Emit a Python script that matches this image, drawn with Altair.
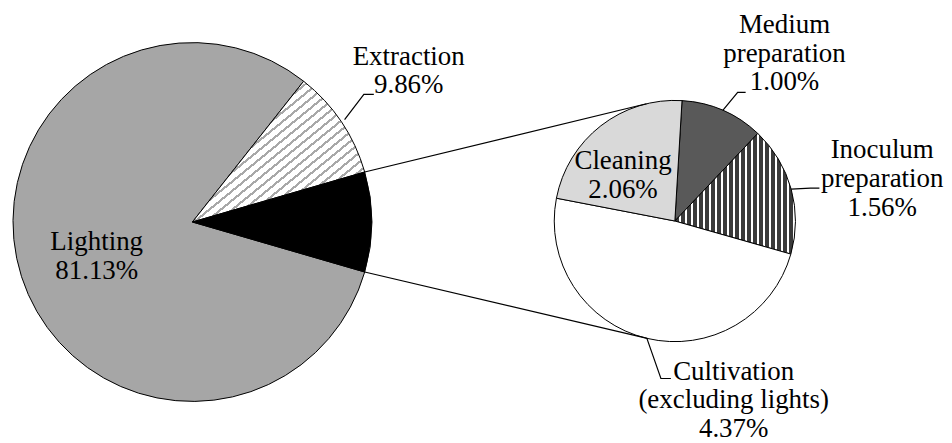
import math
import altair as alt
import pandas as pd

# ---------------- data ----------------
main_names = ["Lighting", "Extraction", "Other"]
main_known = [81.13, 9.86]
second_names = ["Medium preparation", "Inoculum preparation",
                "Cultivation (excluding lights)", "Cleaning"]
second_values = [1.00, 1.56, 4.37, 2.06]

main_values = main_known + [round(sum(second_values), 2)]

# ---------------- layout (plot-area pixels) ----------------
C1 = (185.0, 214.0)   # main pie centre
R1 = 180.0
C2 = (669.0, 213.0)   # secondary pie centre
R2 = 121.0
SECOND_START_DEG = 3.4
FONT = "Liberation Serif"
FS = 27
LH = 29


def pt(c, r, a):
    return (c[0] + r * math.sin(a), c[1] - r * math.cos(a))


def slices(names, values, start_rad):
    tot = sum(values)
    rows, acc = [], start_rad
    for n, v in zip(names, values):
        span = v / tot * 2 * math.pi
        rows.append({"name": n, "value": v, "a0": acc, "a1": acc + span,
                     "mid": acc + span / 2})
        acc += span
    return pd.DataFrame(rows)


other_frac = main_values[2] / sum(main_values)
main_start = math.pi / 2 + other_frac * math.pi  # "Other" centred at 3 o'clock
main_df = slices(main_names, main_values, main_start)
sec_df = slices(second_names, second_values, math.radians(SECOND_START_DEG))


def stripes(c_dark, c_light, n, frac, x1, y1, x2, y2):
    stops = []
    for k in range(n):
        o0 = k / n
        o1 = (k + frac) / n
        o2 = (k + 1) / n
        stops += [alt.GradientStop(color=c_dark, offset=o0),
                  alt.GradientStop(color=c_dark, offset=o1),
                  alt.GradientStop(color=c_light, offset=o1),
                  alt.GradientStop(color=c_light, offset=o2)]
    return alt.LinearGradient(gradient="linear", stops=stops,
                              x1=x1, y1=y1, x2=x2, y2=y2)


fills = {
    "Lighting": "#a6a6a6",
    "Extraction": stripes("#a8a8a8", "#ffffff", 30, 0.3, 0, 0, 1, 1),
    "Other": "#000000",
    "Medium preparation": "#595959",
    "Inoculum preparation": stripes("#3a3a3a", "#ffffff", 20, 0.62, 0, 0, 1, 0),
    "Cultivation (excluding lights)": "#ffffff",
    "Cleaning": "#d9d9d9",
}


def pie_layers(df, centre, radius):
    out = []
    for n in df["name"]:
        out.append(
            alt.Chart(df)
            .transform_filter(alt.datum.name == n)
            .mark_arc(fill=fills[n], stroke="black", strokeWidth=1,
                      radius=radius)
            .encode(theta=alt.Theta("a0:Q", scale=None),
                    theta2=alt.Theta2("a1:Q"),
                    x=alt.value(centre[0]), y=alt.value(centre[1]))
        )
    return out


# connector lines: tangents from the "Other" slice edges to the secondary pie
oth = main_df[main_df.name == "Other"].iloc[0]
conn = []
for ang, sign in [(oth.a0, 1), (oth.a1, -1)]:
    p = pt(C1, R1, ang)
    dx, dy = p[0] - C2[0], p[1] - C2[1]
    d = math.hypot(dx, dy)
    phi = math.atan2(dx, -dy)
    beta = math.acos(R2 / d)
    q = pt(C2, R2, phi + sign * beta)
    conn.append({"x": p[0], "y": p[1], "x2": q[0], "y2": q[1]})
conn_df = pd.DataFrame(conn)

connectors = alt.Chart(conn_df).mark_rule(color="black", strokeWidth=1.2).encode(
    x=alt.X("x:Q", scale=None), y=alt.Y("y:Q", scale=None),
    x2="x2:Q", y2="y2:Q")

# labels
def pct(v):
    return f"{v:.2f}%"

label_layout = {
    # name: (text lines, x, y of first baseline, leader elbow, leader end)
    "Lighting": (["Lighting"], 89, 242, None, None),
    "Extraction": (["Extraction"], 402, 56, (357, 86), (367, 86)),
    "Medium preparation": (["Medium", "preparation"], 779, 24, (732, 84), (740, 84)),
    "Inoculum preparation": (["Inoculum", "preparation"], 877, 150, (805, 180), (814, 180)),
    "Cleaning": (["Cleaning"], 617, 161, None, None),
    "Cultivation (excluding lights)": (["Cultivation", "(excluding lights)"], 728, 372, (655, 371), (665, 371)),
}

lab_rows, lead_rows = [], []
for df, centre, radius, gap in [(main_df, C1, R1, 4), (sec_df, C2, R2, 0)]:
    for _, r in df.iterrows():
        if r["name"] not in label_layout:
            continue
        lines, lx, ly, elbow, end = label_layout[r["name"]]
        lab_rows.append({"text": "\n".join(lines + [pct(r["value"])]),
                         "x": lx, "y": ly})
        if elbow is not None:
            s = pt(centre, radius + gap, r["mid"])
            for i, (px, py) in enumerate([s, elbow, end]):
                lead_rows.append({"id": r["name"], "i": i, "x": px, "y": py})

lab_df = pd.DataFrame(lab_rows)
lead_df = pd.DataFrame(lead_rows)

leaders = alt.Chart(lead_df).mark_line(color="black", strokeWidth=1.2).encode(
    x=alt.X("x:Q", scale=None), y=alt.Y("y:Q", scale=None),
    detail="id:N", order="i:Q")

labels = alt.Chart(lab_df).mark_text(
    font=FONT, fontSize=FS, lineHeight=LH, lineBreak="\n",
    align="center", baseline="alphabetic", color="black"
).encode(x=alt.X("x:Q", scale=None), y=alt.Y("y:Q", scale=None), text="text:N")

chart = alt.layer(
    *pie_layers(main_df, C1, R1),
    *pie_layers(sec_df, C2, R2),
    connectors, leaders, labels,
).properties(width=936, height=427, padding=0).configure(
    font=FONT
).configure_view(strokeWidth=0)

chart.save("out.html", embed_options={"renderer": "svg", "actions": False})
